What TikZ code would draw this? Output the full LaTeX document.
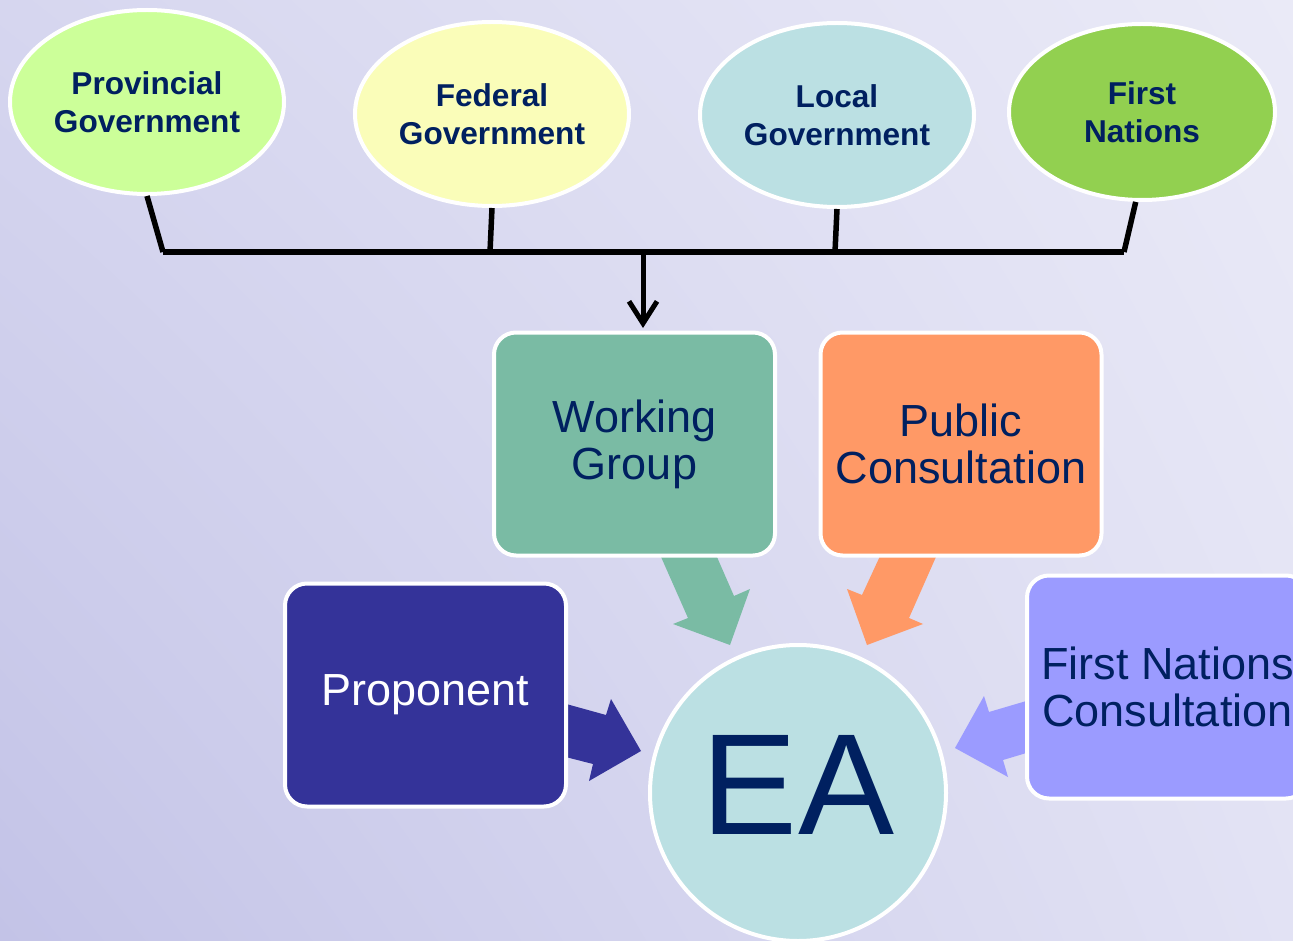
\documentclass[tikz,border=0pt]{standalone}
\usepackage{fontspec}
\setmainfont{Liberation Sans}
\usetikzlibrary{arrows.meta,shapes.geometric,shadings}
\definecolor{navy}{HTML}{002060}
\definecolor{provcol}{HTML}{CCFF99}
\definecolor{fedcol}{HTML}{FAFDB9}
\definecolor{loccol}{HTML}{BBE0E3}
\definecolor{fncol}{HTML}{92D050}
\definecolor{wgcol}{HTML}{7ABBA4}
\definecolor{pccol}{HTML}{FF9966}
\definecolor{propcol}{HTML}{343399}
\definecolor{fnccol}{HTML}{9B9BFF}
\definecolor{eacol}{HTML}{BBE0E3}
\definecolor{bgTL}{HTML}{D6D6EF}
\definecolor{bgTR}{HTML}{EAEAF7}
\definecolor{bgBL}{HTML}{C3C3E7}
\definecolor{bgBR}{HTML}{E2E2F4}
\begin{document}
\begin{tikzpicture}[x=1pt,y=-1pt]
\tikzset{
  gov/.style={ellipse, draw=white, line width=4pt, minimum width=274pt, minimum height=184pt,
    inner sep=0pt, font=\fontsize{31.6}{38}\selectfont\bfseries, text=navy, align=center},
  blk/.style={rectangle, rounded corners=22pt, draw=white, line width=4pt, minimum width=281pt,
    minimum height=223pt, inner sep=0pt, font=\fontsize{45}{47}\selectfont, text=navy, align=center},
  link/.style={line width=5.5pt, black},
}
\useasboundingbox (0,0) rectangle (1293,941);
\clip (0,0) rectangle (1293,941);
\shade[upper left=bgTL, upper right=bgTR, lower left=bgBL, lower right=bgBR] (0,0) rectangle (1293,941);

% government ellipses
\node[gov, fill=provcol] (prov) at (147,102) {Provincial\\Government};
\node[gov, fill=fedcol] (fed) at (492,114) {Federal\\Government};
\node[gov, fill=loccol] (loc) at (837,115) {Local\\Government};
\node[gov, fill=fncol, minimum width=266pt, minimum height=176pt] (fn) at (1142,112) {First\\Nations};

% bar connectors
\coordinate (b1) at (163,252);
\coordinate (b2) at (490,252);
\coordinate (b3) at (835,252);
\coordinate (b4) at (1124,252);
\coordinate (j) at (643,252);
\draw[link] (prov.south) -- (b1);
\draw[link] (fed.south) -- (b2);
\draw[link] (loc.south) -- (b3);
\draw[link] (fn.266) -- (b4);
\draw[link, line width=6pt] (b1) -- (b4);

% block arrows (under boxes)
\fill[wgcol] (654,541) -- (688,618) -- (673,624) -- (730,645) -- (750,589) -- (734,596) -- (710,541) -- cycle;
\fill[pccol] (887,541) -- (862,595) -- (847,589) -- (867,645) -- (923,624) -- (909,618) -- (943,541) -- cycle;
\fill[propcol] (550,699.5) -- (606,715) -- (611,699) -- (641,751) -- (589,781) -- (593,764) -- (550,753) -- cycle;
\fill[fnccol] (1045,695.5) -- (989,712) -- (984,696) -- (955,748) -- (1008,777) -- (1003,760) -- (1045,747.4) -- cycle;

% boxes
\node[blk, fill=wgcol] (wg) at (634.5,444) {Working\\Group};
\node[blk, fill=pccol] (pc) at (961,444) {Public\\Consultation};
\node[blk, fill=propcol, text=white] (prop) at (425.5,695) {Proponent};
\node[blk, fill=fnccol] (fnc) at (1167.5,687) {First Nations\\Consultation};

\draw[line width=5pt, -{Straight Barb[length=22pt,width=28pt]}] (j) -- (643,328);

% EA circle
\node[circle, draw=white, line width=4pt, fill=eacol, minimum size=296pt, inner sep=0pt,
  text depth=16pt, font=\fontsize{144}{150}\selectfont, text=navy] (ea) at (798,793) {EA};
\end{tikzpicture}
\end{document}
